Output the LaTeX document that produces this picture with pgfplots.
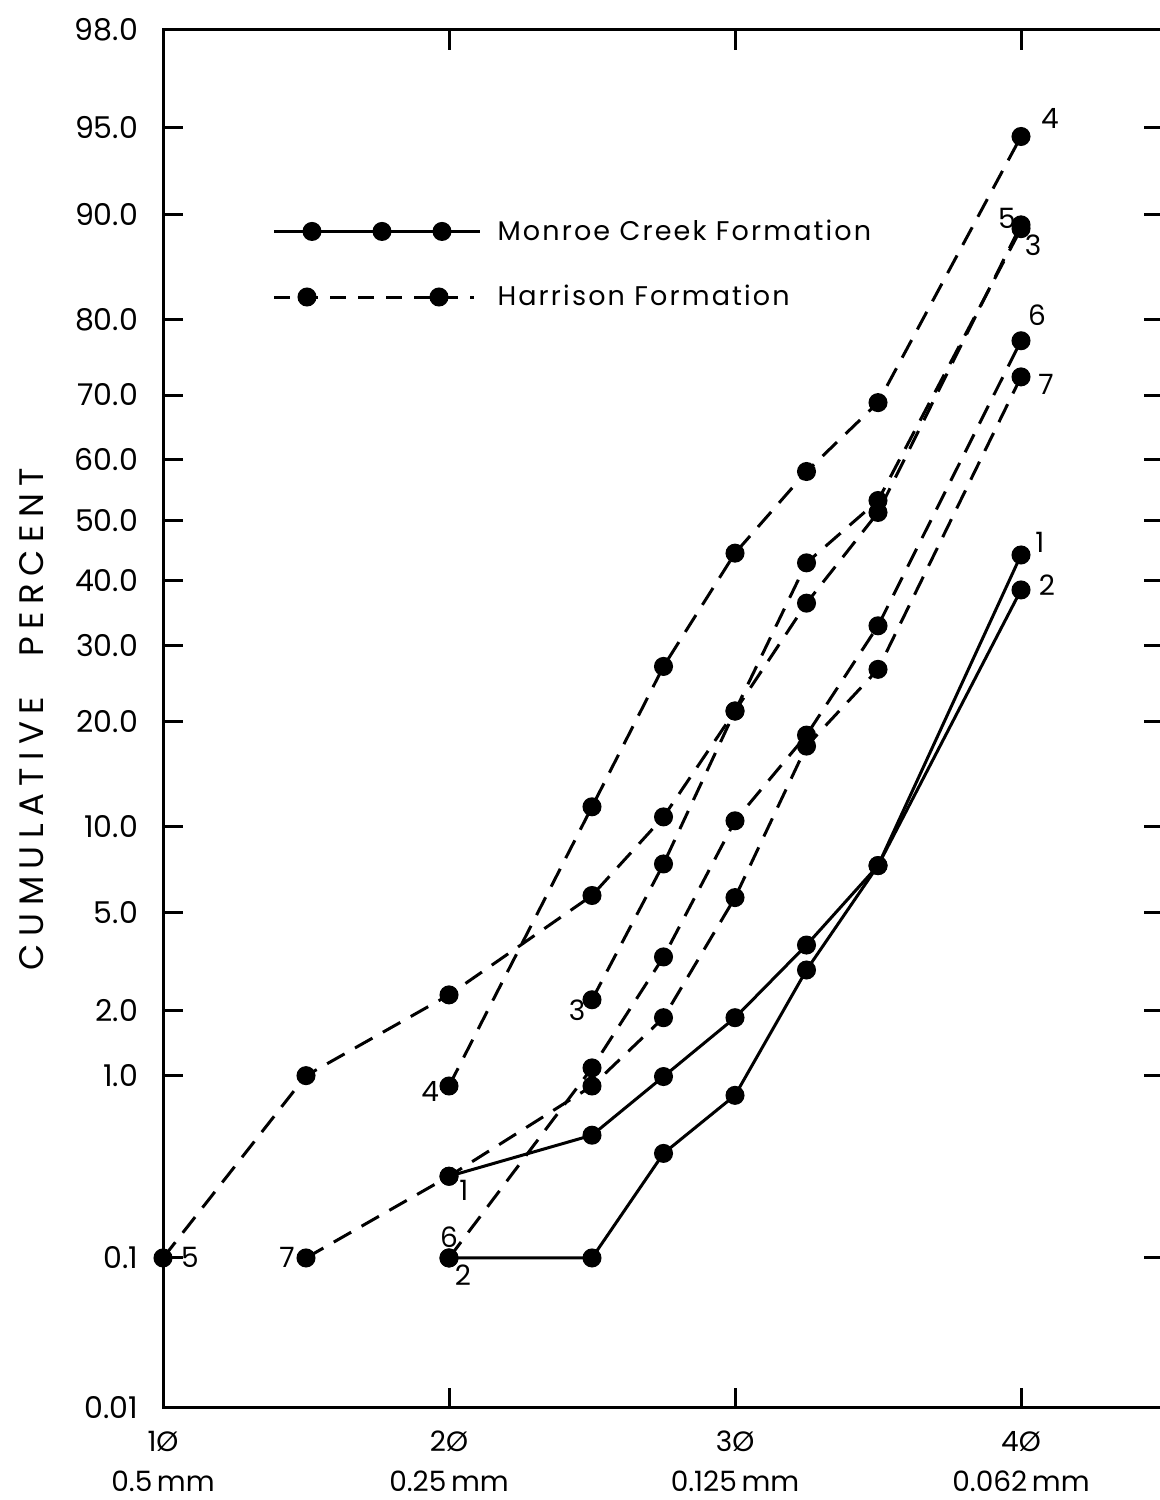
\documentclass[border=0pt]{standalone}
\usepackage{fontspec}
\setmainfont{Poppins}
\usepackage{pgfplots}
\pgfplotsset{compat=1.18}
\usepackage{pgfplotstable}

% Monroe Creek Formation (solid)
\pgfplotstableread{
x p
2 0.30
2.5 0.50
2.75 0.99
3 1.86
3.25 3.76
3.5 7.4
4 44.2
}\mcA
\pgfplotstableread{
x p
2 0.1
2.5 0.1
2.75 0.40
3 0.80
3.25 2.98
3.5 7.4
4 38.5
}\mcB
% Harrison Formation (dashed)
\pgfplotstableread{
x p
2.5 2.23
2.75 7.5
3 21.2
3.25 42.9
3.5 53.3
4 88.9
}\hC
\pgfplotstableread{
x p
2 0.89
2.5 11.5
2.75 27.0
3 44.5
3.25 58.1
3.5 68.9
4 94.6
}\hD
\pgfplotstableread{
x p
1 0.1
1.5 1.0
2 2.34
2.5 5.8
2.75 10.7
3 21.2
3.25 36.4
3.5 51.3
4 89.2
}\hE
\pgfplotstableread{
x p
2 0.1
2.5 1.09
2.75 3.37
3 10.4
3.25 18.4
3.5 32.9
4 77.4
}\hF
\pgfplotstableread{
x p
1.5 0.1
2 0.30
2.5 0.89
2.75 1.86
3 5.7
3.25 17.2
3.5 26.6
4 72.6
}\hG

\begin{document}
\begin{tikzpicture}
\begin{axis}[
  scale only axis, width=500.5pt, height=689pt,
  xmin=1, xmax=4.5, ymin=-3.7190, ymax=2.0537,
  declare function={
    zt(\w)=\w-(2.515517+0.802853*\w+0.010328*\w*\w)/(1+1.432788*\w+0.189269*\w*\w+0.001308*\w*\w*\w);
    probit(\p)=ifthenelse(\p<50,-zt(sqrt(-2*ln(\p/100))),zt(sqrt(-2*ln(1-\p/100))));
  },
  axis line style={line width=1.5pt},
  tick style={line width=1.5pt, black},
  major tick length=10pt, tick align=inside,
  xtick={1,2,3,4},
  xticklabels={{1Ø\\[3pt]0.5\,mm},{2Ø\\[3pt]0.25\,mm},{3Ø\\[3pt]0.125\,mm},{4Ø\\[3pt]0.062\,mm}},
  xticklabel style={font=\fontsize{14}{17}\selectfont, align=center, yshift=-8pt},
  ytick={-3.7190,-3.0902,-2.3263,-2.0537,-1.6449,-1.2816,-0.8416,-0.5244,-0.2533,0,0.2533,0.5244,0.8416,1.2816,1.6449,2.0537},
  yticklabels={0.01,0.1,1.0,2.0,5.0,10.0,20.0,30.0,40.0,50.0,60.0,70.0,80.0,90.0,95.0,98.0},
  yticklabel style={font=\fontsize{15}{18}\selectfont, xshift=-9pt},
  ylabel={CUMULATIVE\hspace{20pt}PERCENT},
  every axis y label/.style={at={(axis description cs:-0.1309,0.5)}, rotate=90, anchor=center,
     font=\fontsize{17}{20}\selectfont\addfontfeature{LetterSpace=22}},
  clip=false,
  every axis plot/.append style={black, line width=1.5pt, mark=*, mark size=4pt, mark options={solid, fill=black}},
  legend style={at={(axis description cs:0.109,0.830)}, anchor=west, draw=none, fill=none,
     inner sep=0pt, row sep=17pt,
     font=\fontsize{13.5}{15}\selectfont\addfontfeature{LetterSpace=8}},
  legend cell align=left,
]
\addlegendimage{legend image code/.code={
  \draw[line width=1.5pt] (0pt,0pt) -- (103pt,0pt);
  \fill (19pt,0pt) circle[radius=4pt];
  \fill (54pt,0pt) circle[radius=4pt];
  \fill (84pt,0pt) circle[radius=4pt];}}
\addlegendentry{\hspace{6pt}Monroe Creek Formation}
\addlegendimage{legend image code/.code={
  \draw[line width=1.5pt, dash pattern=on 8pt off 6pt] (0pt,0pt) -- (100pt,0pt);
  \fill (16.5pt,0pt) circle[radius=4pt];
  \fill (82.5pt,0pt) circle[radius=4pt];}}
\addlegendentry{\hspace{6pt}Harrison Formation}

\addplot[forget plot, solid] table[x=x, y expr={probit(\thisrow{p})}] {\mcA};
\addplot[forget plot, solid] table[x=x, y expr={probit(\thisrow{p})}] {\mcB};
\addplot[forget plot, dash pattern=on 10pt off 6pt] table[x=x, y expr={probit(\thisrow{p})}] {\hC};
\addplot[forget plot, dash pattern=on 10pt off 6pt] table[x=x, y expr={probit(\thisrow{p})}] {\hD};
\addplot[forget plot, dash pattern=on 10pt off 6pt] table[x=x, y expr={probit(\thisrow{p})}] {\hE};
\addplot[forget plot, dash pattern=on 10pt off 6pt] table[x=x, y expr={probit(\thisrow{p})}] {\hF};
\addplot[forget plot, dash pattern=on 10pt off 6pt] table[x=x, y expr={probit(\thisrow{p})}] {\hG};

\begin{scope}[font=\fontsize{14}{16}\selectfont]
\node at (axis cs:4.101,1.685) {4};
\node at (axis cs:3.951,1.266) {5};
\node at (axis cs:4.042,1.153) {3};
\node at (axis cs:4.056,0.860) {6};
\node at (axis cs:4.087,0.567) {7};
\node at (axis cs:4.066,-0.091) {1};
\node at (axis cs:4.091,-0.271) {2};
\node at (axis cs:2.448,-2.052) {3};
\node at (axis cs:1.934,-2.395) {4};
\node at (axis cs:2.052,-2.806) {1};
\node at (axis cs:2.0,-3.003) {6};
\node at (axis cs:2.049,-3.162) {2};
\node at (axis cs:1.094,-3.087) {5};
\node at (axis cs:1.434,-3.087) {7};
\end{scope}

\coordinate (SW) at (rel axis cs:0,0);
\coordinate (NE) at (rel axis cs:1,1);
\end{axis}
\pgfresetboundingbox
\path[use as bounding box] ([xshift=-81.5pt,yshift=-46pt]SW) rectangle ([xshift=-2.5pt,yshift=15pt]NE);
\end{tikzpicture}
\end{document}
